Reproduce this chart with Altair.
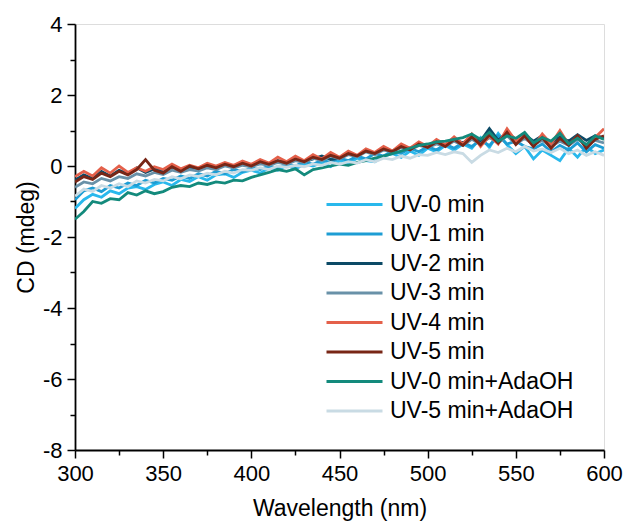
import altair as alt
import pandas as pd

wavelength = list(range(300, 601, 5))

series_names = [
    "UV-0 min", "UV-1 min", "UV-2 min", "UV-3 min", "UV-4 min", "UV-5 min",
    "UV-0 min+AdaOH", "UV-5 min+AdaOH",
]
series_colors = [
    "#29b8ec", "#1d9dd4", "#0c4a66", "#6991a8", "#e4604a", "#782616",
    "#138a7c", "#c9dbe4",
]

uv0 = [-1.20, -0.95, -0.80, -0.88, -0.70, -0.78, -0.62, -0.58, -0.66, -0.52,
       -0.45, -0.55, -0.38, -0.44, -0.30, -0.40, -0.25, -0.22, -0.32, -0.18,
       -0.12, -0.20, -0.06, -0.12, 0.02, -0.08, 0.05, 0.00, 0.10, -0.02,
       0.15, 0.08, 0.22, 0.15, 0.12, 0.28, 0.35, 0.24, 0.42, 0.30,
       0.50, 0.40, 0.58, 0.45, 0.62, 0.50, 0.80, 0.52, 0.92, 0.60,
       0.35, 0.55, 0.20, 0.45, 0.30, 0.15, 0.50, 0.25, 0.55, 0.35, 0.45]
uv1 = [-0.95, -0.70, -0.62, -0.72, -0.55, -0.62, -0.48, -0.55, -0.40, -0.48,
       -0.35, -0.40, -0.28, -0.35, -0.22, -0.28, -0.15, -0.22, -0.10, -0.16,
       -0.05, -0.10, 0.00, -0.06, 0.06, 0.00, 0.12, 0.05, 0.16, 0.10,
       0.22, 0.15, 0.28, 0.20, 0.35, 0.28, 0.42, 0.35, 0.50, 0.40,
       0.55, 0.45, 0.62, 0.50, 0.66, 0.55, 0.72, 0.58, 0.85, 0.62,
       0.70, 0.55, 0.48, 0.62, 0.40, 0.58, 0.45, 0.65, 0.40, 0.60, 0.50]
uv2 = [-0.40, -0.25, -0.35, -0.15, -0.28, -0.12, -0.22, -0.05, -0.18, -0.08,
       -0.15, -0.02, -0.12, -0.05, -0.10, 0.00, -0.08, 0.05, -0.04, 0.08,
       0.00, 0.10, 0.05, 0.15, 0.08, 0.18, 0.12, 0.20, 0.28, 0.18,
       0.22, 0.35, 0.28, 0.45, 0.35, 0.50, 0.42, 0.55, 0.50, 0.62,
       0.55, 0.70, 0.60, 0.75, 0.65, 0.80, 0.70, 1.05, 0.72, 0.95,
       0.75, 0.88, 0.70, 0.85, 0.65, 0.82, 0.70, 0.88, 0.72, 0.85, 0.80]
uv3 = [-0.60, -0.45, -0.50, -0.35, -0.42, -0.30, -0.35, -0.22, -0.28, -0.18,
       -0.24, -0.12, -0.18, -0.10, -0.14, -0.05, -0.10, 0.00, -0.06, 0.02,
       -0.02, 0.06, 0.02, 0.10, 0.05, 0.15, 0.10, 0.22, 0.15, 0.28,
       0.20, 0.32, 0.26, 0.40, 0.32, 0.45, 0.40, 0.52, 0.45, 0.58,
       0.52, 0.62, 0.55, 0.70, 0.58, 0.75, 0.62, 0.80, 0.65, 0.85,
       0.62, 0.78, 0.60, 0.72, 0.55, 0.70, 0.58, 0.75, 0.60, 0.72, 0.65]
uv4 = [-0.30, -0.15, -0.28, -0.05, -0.20, 0.00, -0.18, -0.05, -0.15, -0.02,
       -0.10, 0.05, -0.08, 0.02, -0.05, 0.08, 0.00, 0.10, 0.02, 0.14,
       0.05, 0.18, 0.08, 0.25, 0.12, 0.28, 0.15, 0.32, 0.20, 0.38,
       0.25, 0.42, 0.30, 0.48, 0.38, 0.55, 0.42, 0.62, 0.50, 0.68,
       0.55, 0.75, 0.60, 0.82, 0.62, 0.90, 0.55, 0.85, 0.62, 1.05,
       0.70, 0.85, 0.55, 0.90, 0.62, 1.00, 0.60, 0.85, 0.55, 0.80, 1.05]
uv5 = [-0.45, -0.30, -0.38, -0.20, -0.30, -0.15, -0.25, -0.10, 0.18, -0.12,
       -0.20, -0.02, -0.15, 0.00, -0.08, 0.02, -0.05, 0.05, -0.02, 0.08,
       0.00, 0.12, 0.05, 0.15, 0.08, 0.20, 0.12, 0.25, 0.18, 0.30,
       0.22, 0.35, 0.28, 0.42, 0.35, 0.48, 0.40, 0.55, 0.45, 0.62,
       0.52, 0.68, 0.55, 0.75, 0.58, 0.82, 0.60, 0.88, 0.65, 0.95,
       0.60, 0.85, 0.55, 0.80, 0.50, 0.78, 0.58, 0.85, 0.50, 0.75, 0.85]
ada0 = [-1.50, -1.28, -1.00, -1.05, -0.92, -0.95, -0.75, -0.82, -0.70, -0.78,
        -0.72, -0.60, -0.55, -0.58, -0.48, -0.52, -0.45, -0.48, -0.40, -0.42,
        -0.32, -0.25, -0.18, -0.10, -0.15, -0.08, -0.25, -0.10, -0.05, 0.00,
        0.05, 0.02, 0.10, 0.15, 0.22, 0.28, 0.35, 0.42, 0.50, 0.58,
        0.62, 0.68, 0.70, 0.75, 0.80, 0.90, 0.75, 0.95, 0.70, 0.85,
        0.78, 0.95, 0.65, 0.80, 0.70, 0.92, 0.62, 0.78, 0.60, 0.85, 0.75]
ada5 = [-0.85, -0.65, -0.72, -0.55, -0.62, -0.50, -0.58, -0.42, -0.48, -0.38,
        -0.42, -0.30, -0.36, -0.25, -0.30, -0.20, -0.25, -0.15, -0.20, -0.10,
        -0.12, -0.05, -0.10, 0.00, -0.04, 0.02, -0.02, 0.06, 0.02, 0.10,
        0.05, 0.12, 0.08, 0.18, 0.12, 0.22, 0.18, 0.28, 0.22, 0.32,
        0.30, 0.38, 0.32, 0.40, 0.35, 0.10, 0.30, 0.45, 0.38, 0.50,
        0.40, 0.55, 0.42, 0.48, 0.38, 0.50, 0.35, 0.45, 0.30, 0.40, 0.30]

all_series = [uv0, uv1, uv2, uv3, uv4, uv5, ada0, ada5]

rows = []
for order, (name, vals) in enumerate(zip(series_names, all_series)):
    for w, v in zip(wavelength, vals):
        rows.append({"Wavelength": w, "CD": v, "Series": name, "order": order})
df = pd.DataFrame(rows)

font = "Liberation Sans"

common_axis = dict(
    grid=False,
    domainColor="black",
    domainWidth=1.8,
    tickColor="black",
    tickWidth=1.5,
    labelFontSize=22,
    titleFontSize=23,
    labelFont=font,
    titleFont=font,
    titleFontWeight="normal",
    labelColor="black",
    titleColor="black",
    labelPadding=5,
    labelFlush=False,
)

x_axis = alt.Axis(
    values=list(range(300, 601, 25)),
    labelExpr="datum.value % 50 == 0 ? toString(datum.value) : ''",
    tickSize={"condition": {"test": "datum.value % 50 != 0", "value": 5}, "value": 8},
    title="Wavelength (nm)",
    titlePadding=13,
    **common_axis,
)
y_axis = alt.Axis(
    values=list(range(-8, 5)),
    labelExpr="datum.value % 2 == 0 ? toString(datum.value) : ''",
    tickSize={"condition": {"test": "datum.value % 2 != 0", "value": 5}, "value": 8},
    title="CD (mdeg)",
    titlePadding=4,
    **common_axis,
)

chart = alt.Chart(df).mark_line(strokeWidth=2.8, clip=True).encode(
    x=alt.X("Wavelength:Q", scale=alt.Scale(domain=[300, 600], nice=False), axis=x_axis),
    y=alt.Y("CD:Q", scale=alt.Scale(domain=[-8, 4], nice=False), axis=y_axis),
    color=alt.Color(
        "Series:N",
        scale=alt.Scale(domain=series_names, range=series_colors),
        sort=series_names,
        legend=alt.Legend(
            title=None,
            orient="none",
            legendX=250,
            legendY=170,
            symbolType="stroke",
            symbolSize=3136,
            symbolStrokeWidth=2.8,
            labelFontSize=23,
            labelFont=font,
            labelColor="black",
            labelOffset=6,
            clipHeight=21,
            rowPadding=5.5,
            padding=0,
            labelLimit=300,
        ),
    ),
    order=alt.Order("order:Q"),
    detail="Series:N",
).properties(
    width=529,
    height=426,
    autosize=alt.AutoSizeParams(type="none"),
).configure_view(
    stroke="black",
    strokeWidth=1.5,
).configure(
    background="white",
    padding={"left": 75, "top": 24, "right": 24, "bottom": 77},
)

chart.save("out.html", embed_options={"renderer": "svg", "actions": False})
